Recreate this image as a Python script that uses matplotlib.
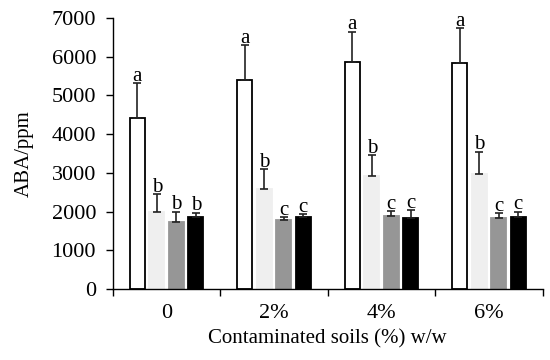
import matplotlib.pyplot as plt
import numpy as np

plt.rcParams['font.family'] = ['Liberation Serif', 'DejaVu Serif']

groups = ["0", "2%", "4%", "6%"]

# one list per bar series
white_vals = [4420, 5390, 5870, 5840]
white_err = [900, 900, 780, 900]
light_vals = [2000, 2580, 2930, 2970]
light_err = [450, 510, 530, 580]
gray_vals = [1740, 1780, 1880, 1830]
gray_err = [260, 80, 140, 130]
black_vals = [1850, 1850, 1830, 1860]
black_err = [120, 80, 210, 140]

white_lett = ["a", "a", "a", "a"]
light_lett = ["b", "b", "b", "b"]
gray_lett = ["b", "c", "c", "c"]
black_lett = ["b", "c", "c", "c"]

series = [
    (white_vals, white_err, white_lett, "white", "black"),
    (light_vals, light_err, light_lett, "#efefef", "#efefef"),
    (gray_vals, gray_err, gray_lett, "#969696", "#969696"),
    (black_vals, black_err, black_lett, "black", "black"),
]

fig = plt.figure(figsize=(5.5, 3.6), dpi=100)
ax = fig.add_axes([0.205, 0.197, 0.782, 0.753])

x = np.arange(len(groups))
step = 0.181
width = 0.14

for i, (vals, err, lett, fc, ec) in enumerate(series):
    pos = x + (i - 1.5) * step
    ax.bar(pos, vals, width, color=fc, edgecolor=ec, linewidth=1.3, zorder=2)
    ax.errorbar(pos, vals, yerr=[np.zeros(len(vals)), err], fmt='none',
                ecolor='#222222', elinewidth=1.2,
                capsize=3, capthick=1.2, zorder=3)
    for p, v, e, t in zip(pos, vals, err, lett):
        ax.text(p, v + e + 60, t, ha='center', va='baseline', fontsize=15)

ax.set_xlim(-0.5, 3.5)
ax.set_ylim(0, 7000)
ax.set_yticks(range(0, 7001, 1000))
ax.set_xticks(x)
ax.set_xticklabels(groups)
ax.set_xticks(np.arange(-0.5, 3.6, 1), minor=True)
ax.tick_params(axis='x', which='major', length=0, pad=11, labelsize=16)
ax.tick_params(axis='x', which='minor', length=5, direction='out', width=1)
ax.tick_params(axis='y', length=5, direction='out', width=1, labelsize=16, pad=7)

for s in ['top', 'right']:
    ax.spines[s].set_visible(False)
for s in ['left', 'bottom']:
    ax.spines[s].set_linewidth(1)

ax.set_ylabel("ABA/ppm", fontsize=15, labelpad=13)
ax.set_xlabel("Contaminated soils (%) w/w", fontsize=15, labelpad=4)

fig.savefig("out.png", dpi=100)
